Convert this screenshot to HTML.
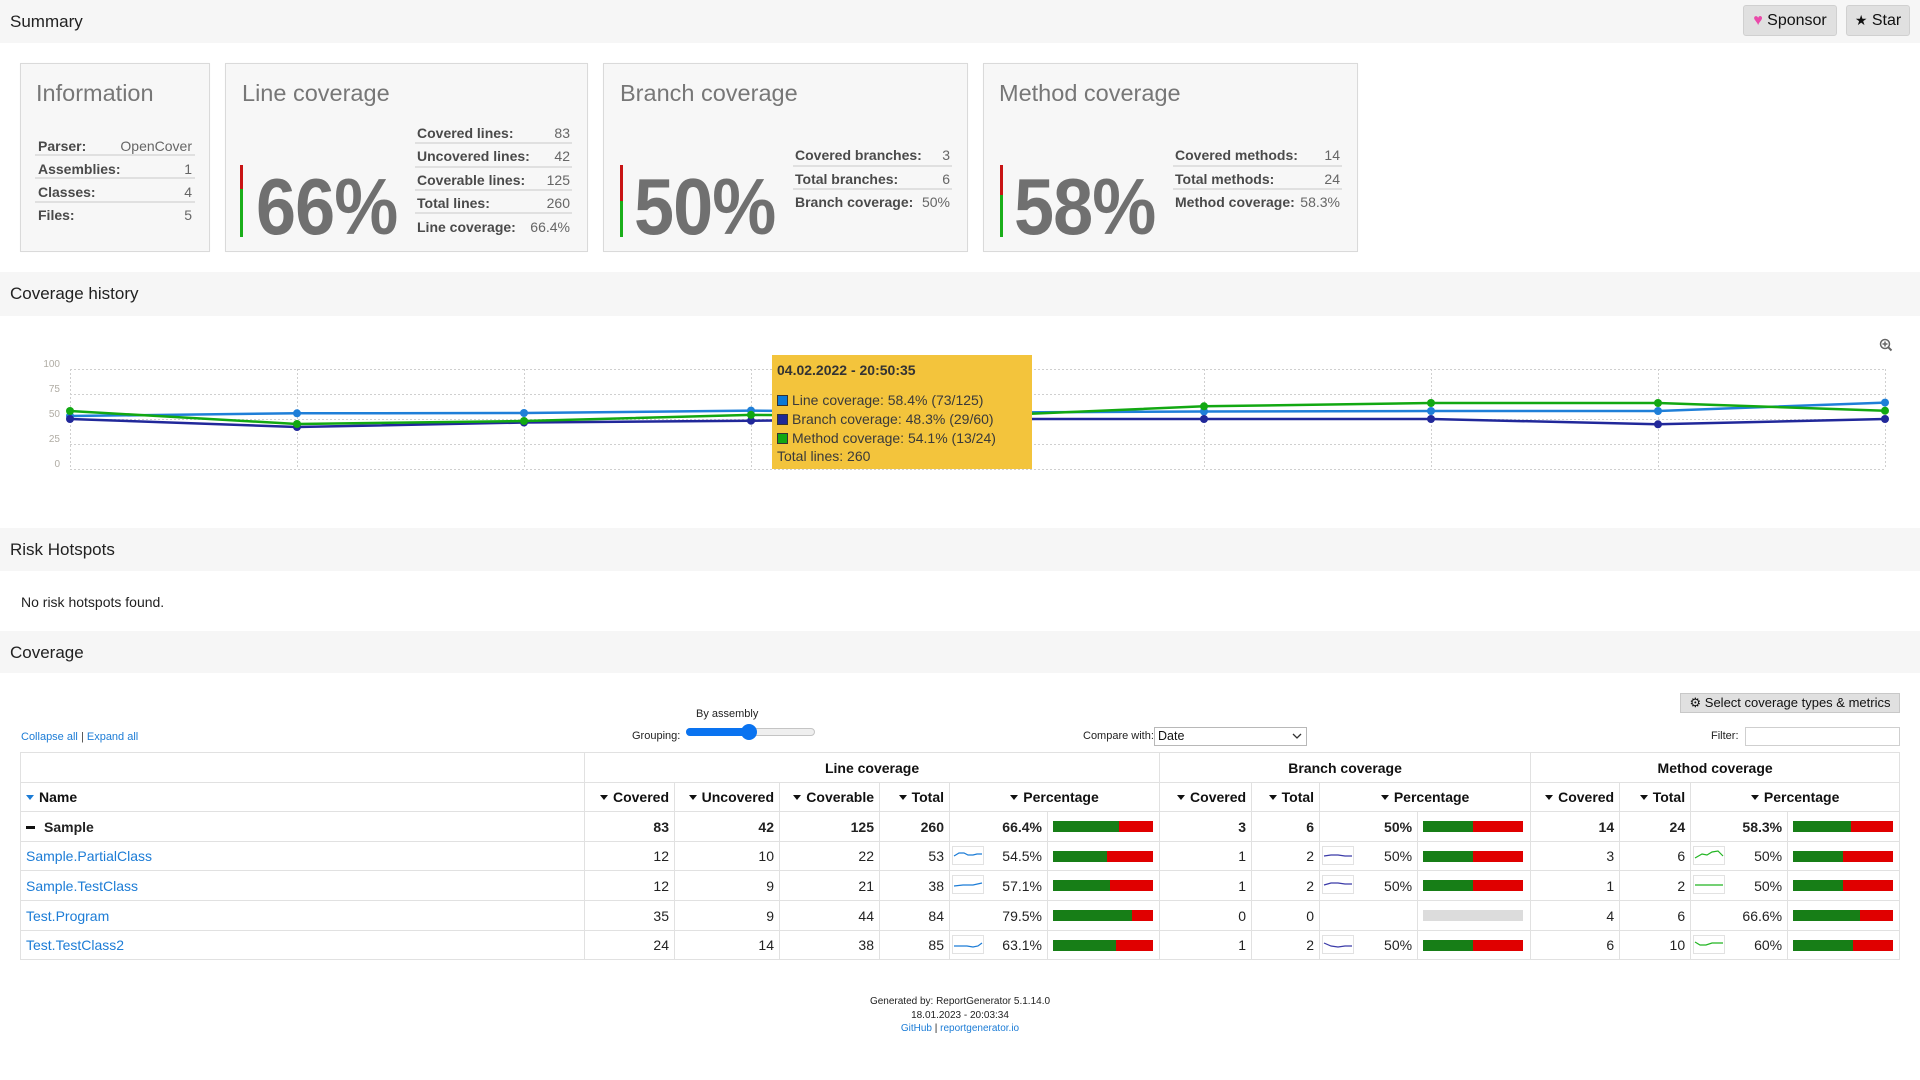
<!DOCTYPE html>
<html><head><meta charset="utf-8">
<style>
*{box-sizing:border-box}
html,body{margin:0;padding:0;background:#fff}
body{width:1920px;height:1080px;position:relative;overflow:hidden;font-family:"Liberation Sans",Arial,sans-serif;color:#222}
.a{position:absolute;white-space:nowrap}
.band{position:absolute;left:0;width:1920px;background:#f6f6f6}
.sec{position:absolute;left:10px;font-size:17px;color:#222;line-height:22px;height:22px}
.card{position:absolute;top:63px;height:189px;background:#f7f7f7;border:1px solid #dadada;box-shadow:0 0 1px rgba(0,0,0,.05)}
.ct{position:absolute;top:81px;font-size:23.5px;line-height:24px;height:24px;color:#777;white-space:nowrap}
.big{position:absolute;top:167px;height:80px;line-height:80px;font-size:80px;font-weight:bold;color:#707070;transform:scaleX(0.9);transform-origin:left center;white-space:nowrap;letter-spacing:-1px}
.lbl{position:absolute;font-size:14px;font-weight:bold;color:#4a4a4a;line-height:20px;height:20px;white-space:nowrap}
.val{position:absolute;font-size:14px;color:#666;line-height:20px;height:20px;text-align:right;white-space:nowrap}
.sep{position:absolute;height:2px;background:#e0e0e0}
.vb{position:absolute;width:3px}
.btn{position:absolute;background:#e0e0e0;border:1px solid #d0d0d0;border-radius:3px;font-size:16px;color:#111;text-align:center}
table.cov{position:absolute;left:20px;top:752px;width:1879px;border-collapse:collapse;table-layout:fixed;font-size:14px;color:#222}
table.cov td,table.cov th{border:1px solid #e1e1e1;padding:0 5px;white-space:nowrap;overflow:hidden;position:relative}
table.cov th{font-weight:bold;color:#111}
.r{text-align:right}.c{text-align:center}.l{text-align:left}
.s{display:inline-block;width:0;height:0;border-left:4px solid transparent;border-right:4px solid transparent;border-top:5px solid #111;margin-right:5px;vertical-align:middle;position:relative;top:-1px}
.s.b{border-top-color:#1c7cd6}
a,.lnk{color:#1c7cd6;text-decoration:none}
.bar{width:100px;height:11px;display:flex}
.bar .g{background:#177e17;height:11px}
.bar .rd{background:#e00000;height:11px;flex:1}
.bar.none{background:#dcdcdc}
.sp{position:absolute;left:2px;top:4px;width:32px;height:19px;border:1px solid #e2e2e2;background:#fff}
.sp svg{position:absolute;left:0;top:0}
</style></head>
<body>

<!-- Summary band -->
<div class="band" style="top:0;height:43px"></div>
<div class="sec" style="top:11px">Summary</div>
<div class="btn" style="left:1743px;top:5px;width:94px;height:31px;line-height:29px"><span style="color:#ea4aaa">&#9829;</span> Sponsor</div>
<div class="btn" style="left:1846px;top:5px;width:64px;height:31px;line-height:29px"><span style="font-size:14px">&#9733;</span> Star</div>

<!-- Information card -->
<div class="card" style="left:20px;width:190px"></div>
<div class="ct" style="left:36px">Information</div>
<div class="lbl" style="left:38px;top:136px">Parser:</div><div class="val" style="left:100px;width:92px;top:136px">OpenCover</div>
<div class="sep" style="left:35px;width:160px;top:154px"></div>
<div class="lbl" style="left:38px;top:159px">Assemblies:</div><div class="val" style="left:100px;width:92px;top:159px">1</div>
<div class="sep" style="left:35px;width:160px;top:177px"></div>
<div class="lbl" style="left:38px;top:182px">Classes:</div><div class="val" style="left:100px;width:92px;top:182px">4</div>
<div class="sep" style="left:35px;width:160px;top:201px"></div>
<div class="lbl" style="left:38px;top:205px">Files:</div><div class="val" style="left:100px;width:92px;top:205px">5</div>

<!-- Line coverage card -->
<div class="card" style="left:225px;width:363px"></div>
<div class="ct" style="left:242px">Line coverage</div>
<div class="vb" style="left:240px;top:165px;height:24px;background:#c81414"></div>
<div class="vb" style="left:240px;top:189px;height:48px;background:#1aae1a"></div>
<div class="big" style="left:256px">66%</div>
<div class="lbl" style="left:417px;top:123px">Covered lines:</div><div class="val" style="left:500px;width:70px;top:123px">83</div>
<div class="sep" style="left:415px;width:157px;top:142px"></div>
<div class="lbl" style="left:417px;top:146px">Uncovered lines:</div><div class="val" style="left:500px;width:70px;top:146px">42</div>
<div class="sep" style="left:415px;width:157px;top:166px"></div>
<div class="lbl" style="left:417px;top:170px">Coverable lines:</div><div class="val" style="left:500px;width:70px;top:170px">125</div>
<div class="sep" style="left:415px;width:157px;top:189px"></div>
<div class="lbl" style="left:417px;top:193px">Total lines:</div><div class="val" style="left:500px;width:70px;top:193px">260</div>
<div class="sep" style="left:415px;width:157px;top:212px"></div>
<div class="lbl" style="left:417px;top:217px">Line coverage:</div><div class="val" style="left:500px;width:70px;top:217px">66.4%</div>

<!-- Branch coverage card -->
<div class="card" style="left:603px;width:365px"></div>
<div class="ct" style="left:620px">Branch coverage</div>
<div class="vb" style="left:620px;top:165px;height:36px;background:#c81414"></div>
<div class="vb" style="left:620px;top:201px;height:36px;background:#1aae1a"></div>
<div class="big" style="left:634px">50%</div>
<div class="lbl" style="left:795px;top:145px">Covered branches:</div><div class="val" style="left:890px;width:60px;top:145px">3</div>
<div class="sep" style="left:793px;width:159px;top:165px"></div>
<div class="lbl" style="left:795px;top:169px">Total branches:</div><div class="val" style="left:890px;width:60px;top:169px">6</div>
<div class="sep" style="left:793px;width:159px;top:188px"></div>
<div class="lbl" style="left:795px;top:192px">Branch coverage:</div><div class="val" style="left:890px;width:60px;top:192px">50%</div>

<!-- Method coverage card -->
<div class="card" style="left:983px;width:375px"></div>
<div class="ct" style="left:999px">Method coverage</div>
<div class="vb" style="left:1000px;top:165px;height:30px;background:#c81414"></div>
<div class="vb" style="left:1000px;top:195px;height:42px;background:#1aae1a"></div>
<div class="big" style="left:1014px">58%</div>
<div class="lbl" style="left:1175px;top:145px">Covered methods:</div><div class="val" style="left:1280px;width:60px;top:145px">14</div>
<div class="sep" style="left:1173px;width:169px;top:165px"></div>
<div class="lbl" style="left:1175px;top:169px">Total methods:</div><div class="val" style="left:1280px;width:60px;top:169px">24</div>
<div class="sep" style="left:1173px;width:169px;top:188px"></div>
<div class="lbl" style="left:1175px;top:192px">Method coverage:</div><div class="val" style="left:1280px;width:60px;top:192px">58.3%</div>

<!-- Coverage history -->
<div class="band" style="top:272px;height:44px"></div>
<div class="sec" style="top:283px">Coverage history</div>

<svg class="a" style="left:0;top:330px" width="1920" height="150" viewBox="0 330 1920 150">
  <g stroke="#cfcfcf" stroke-width="1" stroke-dasharray="2 2" fill="none">
    <line x1="70" y1="369.5" x2="1885" y2="369.5"/>
    <line x1="70" y1="394.5" x2="1885" y2="394.5"/>
    <line x1="70" y1="419.5" x2="1885" y2="419.5"/>
    <line x1="70" y1="444.5" x2="1885" y2="444.5"/>
    <line x1="70" y1="469.5" x2="1885" y2="469.5"/>
    <line x1="70.5" y1="369" x2="70.5" y2="469"/>
    <line x1="297.5" y1="369" x2="297.5" y2="469"/>
    <line x1="524.5" y1="369" x2="524.5" y2="469"/>
    <line x1="751.5" y1="369" x2="751.5" y2="469"/>
    <line x1="977.5" y1="369" x2="977.5" y2="469"/>
    <line x1="1204.5" y1="369" x2="1204.5" y2="469"/>
    <line x1="1431.5" y1="369" x2="1431.5" y2="469"/>
    <line x1="1658.5" y1="369" x2="1658.5" y2="469"/>
    <line x1="1885.5" y1="369" x2="1885.5" y2="469"/>
  </g>
  <g font-family="Liberation Sans, sans-serif" font-size="10" fill="#b0aca4" text-anchor="end">
    <text x="60" y="367">100</text>
    <text x="60" y="392">75</text>
    <text x="60" y="417">50</text>
    <text x="60" y="442">25</text>
    <text x="60" y="467">0</text>
  </g>
  <g fill="none" stroke-width="2.5" stroke-linejoin="round">
    <polyline stroke="#1f7fd8" points="70,416 297,413.3 524,413 751,410.6 977,412.6 1204,411.5 1431,411 1658,411 1885,402.6"/>
    <polyline stroke="#21289a" points="70,419 297,427 524,422.5 751,420.7 977,419 1204,419 1431,419 1658,424.3 1885,419"/>
    <polyline stroke="#12a812" points="70,411 297,424 524,421 751,414.9 977,416 1204,406.3 1431,403 1658,403 1885,410.7"/>
  </g>
  <g fill="#1f7fd8">
    <circle cx="70" cy="416" r="4"/><circle cx="297" cy="413.3" r="4"/><circle cx="524" cy="413" r="4"/><circle cx="751" cy="410.6" r="4"/><circle cx="977" cy="412.6" r="4"/><circle cx="1204" cy="411.5" r="4"/><circle cx="1431" cy="411" r="4"/><circle cx="1658" cy="411" r="4"/><circle cx="1885" cy="402.6" r="4"/>
  </g>
  <g fill="#21289a">
    <circle cx="70" cy="419" r="4"/><circle cx="297" cy="427" r="4"/><circle cx="524" cy="422.5" r="4"/><circle cx="751" cy="420.7" r="4"/><circle cx="977" cy="419" r="4"/><circle cx="1204" cy="419" r="4"/><circle cx="1431" cy="419" r="4"/><circle cx="1658" cy="424.3" r="4"/><circle cx="1885" cy="419" r="4"/>
  </g>
  <g fill="#12a812">
    <circle cx="70" cy="411" r="4"/><circle cx="297" cy="424" r="4"/><circle cx="524" cy="421" r="4"/><circle cx="751" cy="414.9" r="4"/><circle cx="977" cy="416" r="4"/><circle cx="1204" cy="406.3" r="4"/><circle cx="1431" cy="403" r="4"/><circle cx="1658" cy="403" r="4"/><circle cx="1885" cy="410.7" r="4"/>
  </g>
  <!-- zoom icon -->
  <g stroke="#666" stroke-width="1.5" fill="none">
    <circle cx="1885" cy="344" r="4.5"/>
    <line x1="1882.5" y1="344" x2="1887.5" y2="344"/>
    <line x1="1885" y1="341.5" x2="1885" y2="346.5"/>
    <line x1="1888.3" y1="347.3" x2="1891.5" y2="350.5" stroke-width="2"/>
  </g>
</svg>

<!-- Tooltip -->
<div class="a" style="left:772px;top:355px;width:260px;height:114px;background:#f3c43c"></div>
<div class="a" style="left:777px;top:361px;font-size:14px;font-weight:bold;color:#333;line-height:18px">04.02.2022 - 20:50:35</div>
<div class="a" style="left:777px;top:391px;font-size:14px;color:#3a3a3a;line-height:18px"><span style="display:inline-block;width:11px;height:11px;background:#0a78d6;border:1px solid #333;vertical-align:-1px;margin-right:4px"></span>Line coverage: 58.4% (73/125)</div>
<div class="a" style="left:777px;top:410px;font-size:14px;color:#3a3a3a;line-height:18px"><span style="display:inline-block;width:11px;height:11px;background:#1f2a96;border:1px solid #333;vertical-align:-1px;margin-right:4px"></span>Branch coverage: 48.3% (29/60)</div>
<div class="a" style="left:777px;top:429px;font-size:14px;color:#3a3a3a;line-height:18px"><span style="display:inline-block;width:11px;height:11px;background:#12a812;border:1px solid #333;vertical-align:-1px;margin-right:4px"></span>Method coverage: 54.1% (13/24)</div>
<div class="a" style="left:777px;top:447px;font-size:14px;color:#3a3a3a;line-height:18px">Total lines: 260</div>

<!-- Risk Hotspots -->
<div class="band" style="top:528px;height:43px"></div>
<div class="sec" style="top:539px">Risk Hotspots</div>
<div class="a" style="left:21px;top:593px;font-size:14px;line-height:18px;color:#222">No risk hotspots found.</div>

<!-- Coverage -->
<div class="band" style="top:631px;height:42px"></div>
<div class="sec" style="top:642px">Coverage</div>

<div class="btn" style="left:1680px;top:693px;width:220px;height:20px;line-height:18px;font-size:13px;border-radius:0;border-color:#c8c8c8">&#9881; Select coverage types &amp; metrics</div>

<div class="a" style="left:21px;top:729px;font-size:11px;line-height:16px"><span class="lnk">Collapse all</span> <span style="color:#444">|</span> <span class="lnk">Expand all</span></div>

<div class="a" style="left:696px;top:706px;font-size:11px;line-height:16px;color:#222">By assembly</div>
<div class="a" style="left:632px;top:728px;font-size:11px;line-height:16px;color:#222">Grouping:</div>
<div class="a" style="left:686px;top:728px;width:129px;height:8px;border-radius:4px;background:#efefef;border:1px solid #c4c4c4"></div>
<div class="a" style="left:686px;top:728px;width:64px;height:8px;border-radius:4px;background:#0a73f0"></div>
<div class="a" style="left:741px;top:724px;width:16px;height:16px;border-radius:8px;background:#0a73f0"></div>

<div class="a" style="left:1083px;top:728px;font-size:11px;line-height:16px;color:#222">Compare with:</div>
<div class="a" style="left:1154px;top:727px;width:153px;height:19px;border:1px solid #b8b8b8;background:#fff"></div>
<div class="a" style="left:1158px;top:728px;font-size:12.5px;line-height:17px;color:#111">Date</div>
<svg class="a" style="left:1292px;top:733px" width="10" height="7" viewBox="0 0 10 7"><polyline points="1,1 5,5 9,1" fill="none" stroke="#333" stroke-width="1.3"/></svg>

<div class="a" style="left:1711px;top:728px;font-size:11px;line-height:16px;color:#222">Filter:</div>
<div class="a" style="left:1745px;top:727px;width:155px;height:19px;border:1px solid #cfcfcf;background:#fff"></div>

<table class="cov">
<colgroup>
<col style="width:564px"><col style="width:90px"><col style="width:105px"><col style="width:100px"><col style="width:70px"><col style="width:98px"><col style="width:112px"><col style="width:92px"><col style="width:68px"><col style="width:98px"><col style="width:113px"><col style="width:89px"><col style="width:71px"><col style="width:97px"><col style="width:112px">
</colgroup>
<tr style="height:30px"><th></th><th colspan="6" class="c">Line coverage</th><th colspan="4" class="c">Branch coverage</th><th colspan="4" class="c">Method coverage</th></tr>
<tr style="height:29px">
<th class="l"><span class="s b"></span>Name</th>
<th class="r"><span class="s"></span>Covered</th>
<th class="r"><span class="s"></span>Uncovered</th>
<th class="r"><span class="s"></span>Coverable</th>
<th class="r"><span class="s"></span>Total</th>
<th colspan="2" class="c"><span class="s"></span>Percentage</th>
<th class="r"><span class="s"></span>Covered</th>
<th class="r"><span class="s"></span>Total</th>
<th colspan="2" class="c"><span class="s"></span>Percentage</th>
<th class="r"><span class="s"></span>Covered</th>
<th class="r"><span class="s"></span>Total</th>
<th colspan="2" class="c"><span class="s"></span>Percentage</th>
</tr>
<tr style="height:30px;font-weight:bold">
<td><span style="display:inline-block;width:9px;height:3px;background:#111;vertical-align:middle;margin-right:9px"></span>Sample</td>
<td class="r">83</td><td class="r">42</td><td class="r">125</td><td class="r">260</td><td class="r">66.4%</td>
<td><div class="bar"><div class="g" style="width:66px"></div><div class="rd"></div></div></td>
<td class="r">3</td><td class="r">6</td><td class="r">50%</td>
<td><div class="bar"><div class="g" style="width:50px"></div><div class="rd"></div></div></td>
<td class="r">14</td><td class="r">24</td><td class="r">58.3%</td>
<td><div class="bar"><div class="g" style="width:58px"></div><div class="rd"></div></div></td>
</tr>
<tr style="height:29px">
<td><a>Sample.PartialClass</a></td>
<td class="r">12</td><td class="r">10</td><td class="r">22</td><td class="r">53</td>
<td class="r"><div class="sp"><svg width="30" height="17"><polyline points="1,9 6,6 11,6 15,8 20,8 24,7 29,7" fill="none" stroke="#1c7cd6" stroke-width="1.2"/></svg></div>54.5%</td>
<td><div class="bar"><div class="g" style="width:54px"></div><div class="rd"></div></div></td>
<td class="r">1</td><td class="r">2</td>
<td class="r"><div class="sp"><svg width="30" height="17"><polyline points="1,9 8,8 15,8 22,9 29,9" fill="none" stroke="#3a3aa8" stroke-width="1.2"/></svg></div>50%</td>
<td><div class="bar"><div class="g" style="width:50px"></div><div class="rd"></div></div></td>
<td class="r">3</td><td class="r">6</td>
<td class="r"><div class="sp"><svg width="30" height="17"><polyline points="1,11 8,7 13,8 18,5 24,4 29,9" fill="none" stroke="#22b522" stroke-width="1.2"/></svg></div>50%</td>
<td><div class="bar"><div class="g" style="width:50px"></div><div class="rd"></div></div></td>
</tr>
<tr style="height:30px">
<td><a>Sample.TestClass</a></td>
<td class="r">12</td><td class="r">9</td><td class="r">21</td><td class="r">38</td>
<td class="r"><div class="sp"><svg width="30" height="17"><polyline points="1,10 10,9 20,9 29,7" fill="none" stroke="#1c7cd6" stroke-width="1.2"/></svg></div>57.1%</td>
<td><div class="bar"><div class="g" style="width:57px"></div><div class="rd"></div></div></td>
<td class="r">1</td><td class="r">2</td>
<td class="r"><div class="sp"><svg width="30" height="17"><polyline points="1,9 8,7 15,7 22,8 29,8" fill="none" stroke="#3a3aa8" stroke-width="1.2"/></svg></div>50%</td>
<td><div class="bar"><div class="g" style="width:50px"></div><div class="rd"></div></div></td>
<td class="r">1</td><td class="r">2</td>
<td class="r"><div class="sp"><svg width="30" height="17"><polyline points="1,9 29,9" fill="none" stroke="#22b522" stroke-width="1.2"/></svg></div>50%</td>
<td><div class="bar"><div class="g" style="width:50px"></div><div class="rd"></div></div></td>
</tr>
<tr style="height:30px">
<td><a>Test.Program</a></td>
<td class="r">35</td><td class="r">9</td><td class="r">44</td><td class="r">84</td>
<td class="r">79.5%</td>
<td><div class="bar"><div class="g" style="width:79px"></div><div class="rd"></div></div></td>
<td class="r">0</td><td class="r">0</td>
<td class="r"></td>
<td><div class="bar none"></div></td>
<td class="r">4</td><td class="r">6</td>
<td class="r">66.6%</td>
<td><div class="bar"><div class="g" style="width:67px"></div><div class="rd"></div></div></td>
</tr>
<tr style="height:29px">
<td><a>Test.TestClass2</a></td>
<td class="r">24</td><td class="r">14</td><td class="r">38</td><td class="r">85</td>
<td class="r"><div class="sp"><svg width="30" height="17"><polyline points="1,10 14,10 20,11 25,10 29,7" fill="none" stroke="#1c7cd6" stroke-width="1.2"/></svg></div>63.1%</td>
<td><div class="bar"><div class="g" style="width:63px"></div><div class="rd"></div></div></td>
<td class="r">1</td><td class="r">2</td>
<td class="r"><div class="sp"><svg width="30" height="17"><polyline points="1,7 8,10 15,11 22,10 29,10" fill="none" stroke="#3a3aa8" stroke-width="1.2"/></svg></div>50%</td>
<td><div class="bar"><div class="g" style="width:50px"></div><div class="rd"></div></div></td>
<td class="r">6</td><td class="r">10</td>
<td class="r"><div class="sp"><svg width="30" height="17"><polyline points="1,6 6,9 12,9 18,7 29,7" fill="none" stroke="#22b522" stroke-width="1.2"/></svg></div>60%</td>
<td><div class="bar"><div class="g" style="width:60px"></div><div class="rd"></div></div></td>
</tr>
</table>

<!-- Footer -->
<div class="a" style="left:0;width:1920px;top:995px;text-align:center;font-size:10px;line-height:13.5px;color:#222">Generated by: ReportGenerator 5.1.14.0<br>18.01.2023 - 20:03:34<br><span class="lnk">GitHub</span> | <span class="lnk">reportgenerator.io</span></div>

</body></html>
